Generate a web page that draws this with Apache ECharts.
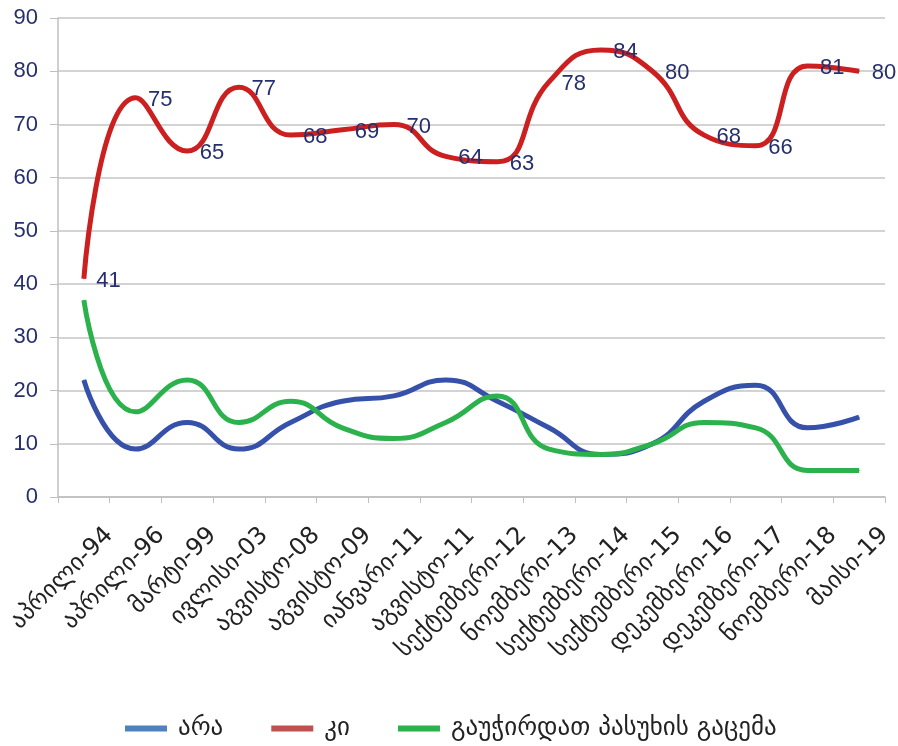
<!DOCTYPE html>
<html>
<head>
<meta charset="utf-8">
<script src="https://cdn.jsdelivr.net/npm/echarts@6/dist/echarts.min.js"></script>
<style>html,body{margin:0;padding:0;background:#fff;}#c{width:898px;height:746px;}</style>
</head>
<body>
<div id="c"></div>
<script>
const categories = ['აპრილი-94','აპრილი-96','მარტი-99','ივლისი-03','აგვისტო-08','აგვისტო-09','იანვარი-11','აგვისტო-11','სექტემბერი-12','ნოემბერი-13','სექტემბერი-14','სექტემბერი-15','დეკემბერი-16','დეკემბერი-17','ნოემბერი-18','მაისი-19'];
const seriesNames = ['არა','კი','გაუჭირდათ პასუხის გაცემა'];
const noValues = [22,9,14,9,14,18,19,22,18,13,8,10,18,21,13,15];
const yesValues = [41,75,65,77,68,69,70,64,63,78,84,80,68,66,81,80];
const dkValues = [37,16,22,14,18,13,11,14,19,9,8,10,14,13,5,5];
const yTicks = {min:0, max:90, interval:10};

const lineColors = ['#3651aa','#cc1f1f','#2bb24c'];
const legendColors = ['#4f81bd','#c0504d','#2bb24c'];
const navy = '#262f6e';
const geoFont = "'DejaVu Sans', sans-serif";

const chart = echarts.init(document.getElementById('c'), null, {renderer:'canvas'});
function mk(name, data, idx, withLabel){
  return {
    name: name, type: 'line', data: data, smooth: 0.5,
    symbol: 'circle', symbolSize: 1, showSymbol: true,
    itemStyle: {color: lineColors[idx]},
    lineStyle: {color: lineColors[idx], width: 5},
    label: withLabel ? {show: true, position: 'right', distance: 12, color: navy,
      fontSize: 22, fontFamily: "'Liberation Sans', Arial, sans-serif", offset:[0,2]} : {show:false},
    emphasis: {disabled: true},
    z: idx === 1 ? 3 : 2
  };
}
chart.setOption({
  animation: false,
  backgroundColor: '#fff',
  grid: {left: 58, right: 13, top: 18, bottom: 249},
  legend: {
    left: 120, top: 711,
    itemWidth: 42, itemHeight: 6, itemGap: 48, icon: 'rect',
    textStyle: {fontSize: 25, color: '#222', fontFamily: geoFont, padding: [0,0,0,6]},
    data: seriesNames.map((n,i)=>({name:n, itemStyle:{color:legendColors[i]}}))
  },
  xAxis: {
    type: 'category', data: categories, boundaryGap: true,
    axisLine: {show: true, lineStyle: {color: '#bfbfbf', width: 1.5}},
    axisTick: {show: true, length: 6, lineStyle: {color: '#bfbfbf'}},
    axisLabel: {interval: 0, rotate: 45, margin: 9, align: 'right', verticalAlign: 'top',
      padding: [24,0,0,0], fontSize: 24, color: '#222', fontFamily: geoFont}
  },
  yAxis: {
    type: 'value', min: yTicks.min, max: yTicks.max, interval: yTicks.interval,
    axisLine: {show: true, lineStyle: {color: '#bfbfbf', width: 1.5}},
    axisTick: {show: true, length: 8, lineStyle: {color: '#bfbfbf'}},
    splitLine: {show: true, lineStyle: {color: '#c4c4c4', width: 1.5}},
    axisLabel: {fontSize: 22, color: navy, margin: 20, fontFamily: "'Liberation Sans', Arial, sans-serif"}
  },
  series: [
    mk(seriesNames[0], noValues, 0, false),
    mk(seriesNames[1], yesValues, 1, true),
    mk(seriesNames[2], dkValues, 2, false)
  ]
});
</script>
</body>
</html>
